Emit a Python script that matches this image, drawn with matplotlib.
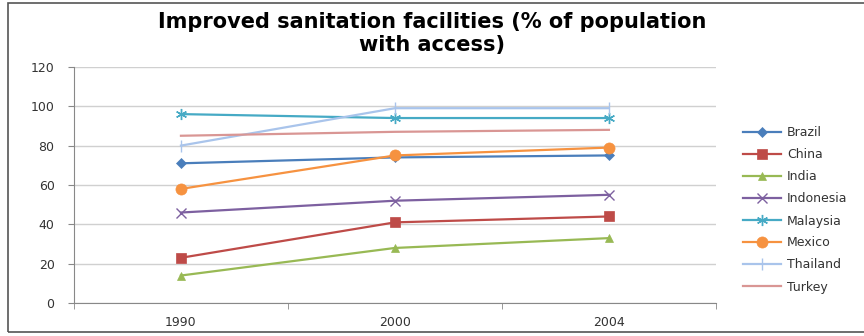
import matplotlib.pyplot as plt
from matplotlib.patches import Rectangle

years = ["1990", "2000", "2004"]
countries = ["Brazil", "China", "India", "Indonesia", "Malaysia", "Mexico", "Thailand", "Turkey"]
brazil = [71, 74, 75]
china = [23, 41, 44]
india = [14, 28, 33]
indonesia = [46, 52, 55]
malaysia = [96, 94, 94]
mexico = [58, 75, 79]
thailand = [80, 99, 99]
turkey = [85, 87, 88]
series = [brazil, china, india, indonesia, malaysia, mexico, thailand, turkey]

colors = ["#4A7EBB", "#BE4B48", "#98B954", "#7D60A0", "#46AAC5", "#F69240", "#A9C4EB", "#D99694"]
markers = ["D", "s", "^", "x", (6, 2, 0), "o", "|", "None"]
msizes = [5, 7, 6, 7, 8, 8, 8, 0]

fig = plt.figure(figsize=(8.64, 3.36), dpi=100)
ax = fig.add_axes([0.0856, 0.098, 0.743, 0.703])

xs = range(len(years))
for name, vals, c, m, ms in zip(countries, series, colors, markers, msizes):
    thin = m in ("x", "|") or isinstance(m, tuple)
    ax.plot(xs, vals, color=c, marker=m, markersize=ms, linewidth=1.6,
            markeredgewidth=1.0 if thin else 0.5,
            markeredgecolor=c, label=name)

ax.set_xlim(-0.5, 2.5)
ax.set_ylim(0, 120)
ax.set_yticks(range(0, 121, 20))
ax.set_xticks(xs)
ax.set_xticklabels(years)
ax.set_xticks([-0.5, 0.5, 1.5, 2.5], minor=True)
ax.tick_params(axis="x", which="major", length=0, pad=9, labelsize=9, labelcolor="#333333")
ax.tick_params(axis="x", which="minor", length=4, color="#888888")
ax.tick_params(axis="y", length=4, color="#888888", labelsize=9, labelcolor="#333333", pad=10)
ax.grid(axis="y", color="#D0D0D0", linewidth=1)
ax.set_axisbelow(True)
for s in ["top", "right"]:
    ax.spines[s].set_visible(False)
for s in ["left", "bottom"]:
    ax.spines[s].set_color("#888888")

fig.text(0.5, 0.9, "Improved sanitation facilities (% of population\nwith access)",
         ha="center", va="center", fontsize=15, fontweight="bold",
         family="DejaVu Sans", linespacing=1.15)

fig.legend(loc="center left", bbox_to_anchor=(0.847, 0.375), frameon=False,
           fontsize=9, handlelength=3.0, labelspacing=0.72, labelcolor="#333333",
           handletextpad=0.5)

fig.patches.append(Rectangle((0.009, 0.012), 1.1, 0.98, transform=fig.transFigure,
                             fill=False, edgecolor="#555555", linewidth=1.2))

fig.savefig("out.png", dpi=100)
